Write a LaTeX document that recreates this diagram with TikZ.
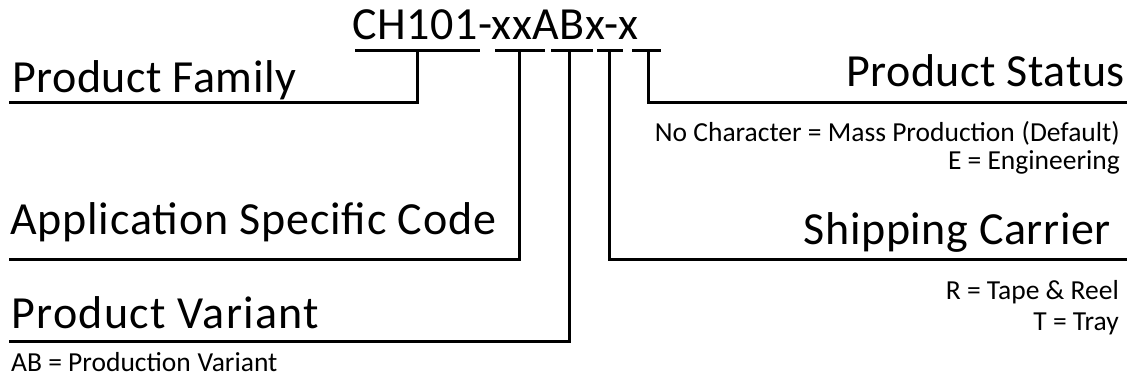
\documentclass[tikz,border=0pt]{standalone}
\usepackage{fontspec}
\setmainfont{Carlito}
\newfontfamily\bigfont[LetterSpace=1.2]{Carlito}
\newfontfamily\appfont[LetterSpace=1.8]{Carlito}
\newfontfamily\varfont[LetterSpace=3.0]{Carlito}
\begin{document}
\begin{tikzpicture}[x=1pt,y=-1pt,
  big/.style={inner sep=0pt,font=\bigfont\fontsize{46}{46}\selectfont},
  small/.style={inner sep=0pt,font=\fontsize{27.5}{27.5}\selectfont},
  wire/.style={line width=3pt,line cap=rect,line join=miter}]
\useasboundingbox (0,0) rectangle (1137,382);
% title
\node[big,anchor=base west] (title) at (352,40) {CH101-xxABx-x};
% bars under the code
\coordinate (b1l) at (356,51); \coordinate (b1r) at (478,51);
\coordinate (b2l) at (496,51); \coordinate (b2r) at (543,51);
\coordinate (b3l) at (552,51); \coordinate (b3r) at (591,51);
\coordinate (b4l) at (598,51); \coordinate (b4r) at (621,51);
\coordinate (b5l) at (633,51); \coordinate (b5r) at (659,51);
\foreach \i in {1,...,5} {\draw[wire] (b\i l) -- (b\i r);}
\coordinate (b1m) at (417,51);
\coordinate (b2m) at (519,51);
\coordinate (b3m) at (569,51);
\coordinate (b4m) at (609,51);
\coordinate (b5m) at (648,51);
% line ends
\coordinate (famend) at (10,103);
\coordinate (append) at (10,259);
\coordinate (varend) at (10,341);
\coordinate (carend) at (1125,259);
\coordinate (staend) at (1125,103);
% labels
\node[big,anchor=base west] (fam) at (12,93) {Product Family};
\node[big,anchor=base west,font=\appfont\fontsize{46}{46}\selectfont] (app) at (10,234) {Application Specific Code};
\node[big,anchor=base west,font=\varfont\fontsize{46}{46}\selectfont] (var) at (11,328) {Product Variant};
\node[small,anchor=base west] (varnote) at (11,371) {AB = Production\hskip0.25em Variant};
\node[big,anchor=base east] (car) at (1111,244) {Shipping Carrier};
\node[small,anchor=base east] (carnote1) at (1119,299) {R = Tape \& Reel};
\node[small,anchor=base east] (carnote2) at (1119,330) {T = Tray};
\node[big,anchor=base east] (sta) at (1125,87) {Product Status};
\node[small,anchor=base east] (stanote1) at (1120,142) {No Character = Mass Production\hskip0.25em (Default)};
\node[small,anchor=base east] (stanote2) at (1120,170) {E = Engineering};
% connectors
\draw[wire] (b1m) |- (famend);
\draw[wire] (b2m) |- (append);
\draw[wire] (b3m) |- (varend);
\draw[wire] (b4m) |- (carend);
\draw[wire] (b5m) |- (staend);
\end{tikzpicture}
\end{document}
